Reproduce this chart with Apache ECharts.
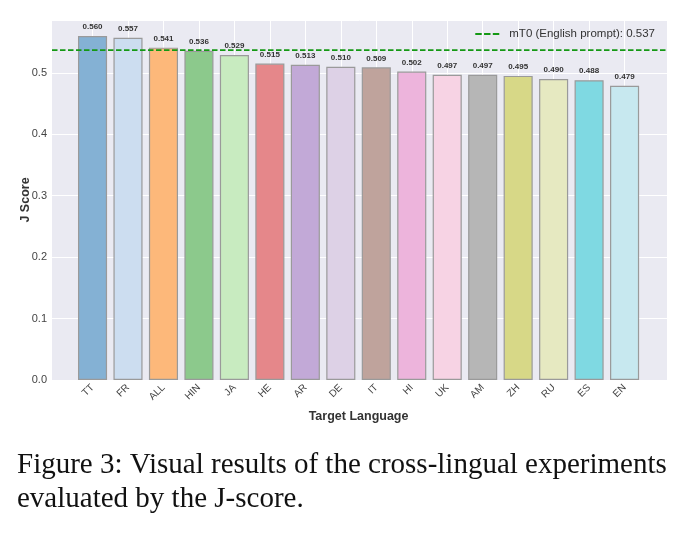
<!DOCTYPE html>
<html>
<head>
<meta charset="utf-8">
<script src="https://cdn.jsdelivr.net/npm/echarts@6/dist/echarts.min.js"></script>
<style>
  html, body { margin: 0; padding: 0; background: #fff; }
  #chart { width: 686px; height: 535px; }
</style>
</head>
<body>
<div id="chart"></div>
<script>
"use strict";

// target languages, sorted by score
const languages = ["TT", "FR", "ALL", "HIN", "JA", "HE", "AR", "DE", "IT", "HI", "UK", "AM", "ZH", "RU", "ES", "EN"];
const jScores = [0.560, 0.557, 0.541, 0.536, 0.529, 0.515, 0.513, 0.510, 0.509, 0.502, 0.497, 0.497, 0.495, 0.490, 0.488, 0.479];
const barColors = [
  "#84B1D4", "#CCDDF0", "#FDB87A", "#8CC98C", "#C8EBC0", "#E5878A", "#C2A9D7", "#DDD1E6",
  "#BFA39C", "#EDB4DC", "#F7D3E4", "#B6B6B6", "#D7D887", "#E6E9C1", "#7FD9E2", "#C7E8EF",
];
const baselineName = "mT0 (English prompt): 0.537";
const baselineValue = 0.537;

const chart = echarts.init(document.getElementById("chart"));

const yMax = 0.586;
const sans = "Liberation Sans";
const green = "#149814";

/** @type {echarts.EChartsOption} */
const options = {
  animation: false,
  backgroundColor: "#fff",
  textStyle: { fontFamily: sans },
  grid: [
    // full plot area: background + horizontal grid
    { left: 52, right: 19, top: 20, bottom: 155, show: true, backgroundColor: "#EAEAF2", borderWidth: 0 },
    // bars
    { left: 74.8, right: 43.7, top: 20, bottom: 155 },
  ],
  legend: {
    top: 23,
    right: 26,
    // dashed line icon
    icon: "path://M0,0H7V2H0Z M9.5,0H16.5V2H9.5Z M19,0H26V2H19Z",
    itemWidth: 24,
    itemHeight: 2,
    itemGap: 8,
    itemStyle: { color: green },
    data: [baselineName],
    textStyle: { color: "#333", fontSize: 11.5, fontFamily: sans, padding: [0, 0, 0, 5] },
  },
  xAxis: [
    { type: "value", gridIndex: 0, min: 0, max: 1, show: false },
    {
      type: "category",
      gridIndex: 1,
      data: languages,
      axisLine: { show: false },
      axisTick: { show: false },
      axisLabel: { rotate: 45, color: "#444", fontSize: 10, margin: 6, interval: 0 },
      splitLine: { show: true, alignWithLabel: true, lineStyle: { color: "#fff", width: 1 } },
      name: "Target Language",
      nameLocation: "middle",
      nameGap: 30,
      nameMoveOverlap: false,
      nameTextStyle: { color: "#333", fontSize: 12.5, fontWeight: "bold" },
    },
  ],
  yAxis: [
    {
      type: "value",
      gridIndex: 0,
      min: 0,
      max: yMax,
      interval: 0.1,
      axisLine: { show: false },
      axisTick: { show: false },
      axisLabel: { color: "#444", fontSize: 11, margin: 5, showMaxLabel: false, formatter: (v) => v.toFixed(1) },
      splitLine: { show: true, lineStyle: { color: "#fff", width: 1 } },
      name: "J Score",
      nameLocation: "middle",
      nameGap: 19.5,
      nameMoveOverlap: false,
      nameTextStyle: { color: "#333", fontSize: 12.5, fontWeight: "bold" },
    },
    { type: "value", gridIndex: 1, min: 0, max: yMax, show: false },
  ],
  series: [
    {
      type: "bar",
      xAxisIndex: 1,
      yAxisIndex: 1,
      barCategoryGap: "18%",
      data: jScores.map((v, i) => ({ value: v, itemStyle: { color: barColors[i] } })),
      itemStyle: { borderColor: "#9a9a9a", borderWidth: 1.2 },
      label: {
        show: true,
        position: "top",
        distance: 5,
        color: "#333",
        fontSize: 8,
        fontWeight: "bold",
        formatter: (p) => p.value.toFixed(3),
      },
      z: 2,
    },
    {
      type: "line",
      name: baselineName,
      xAxisIndex: 0,
      yAxisIndex: 0,
      data: [[0, baselineValue], [1, baselineValue]],
      symbol: "none",
      lineStyle: { color: green, width: 1.6, type: [5.5, 2.5] },
      itemStyle: { color: green },
      z: 5,
    },
  ],
  graphic: [
    {
      type: "text",
      left: 17,
      top: 448,
      style: {
        text: "Figure 3: Visual results of the cross-lingual experiments\nevaluated by the J-score.",
        font: "29px 'Liberation Serif'",
        lineHeight: 34,
        fill: "#111",
      },
    },
  ],
};

chart.setOption(options);
</script>
</body>
</html>
